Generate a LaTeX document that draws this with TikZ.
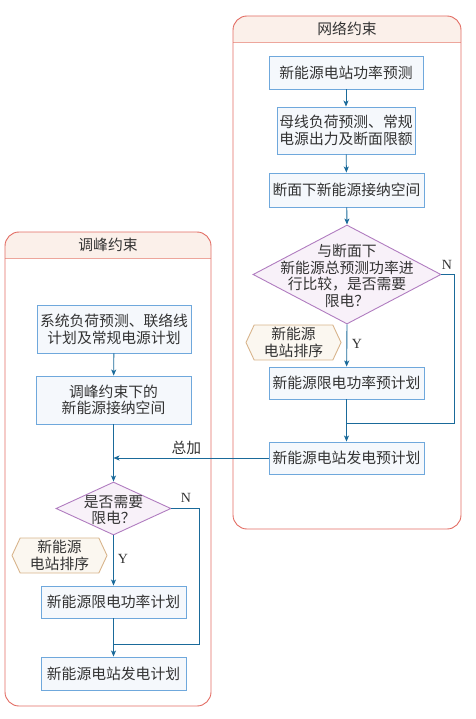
\documentclass[tikz,border=0pt]{standalone}
\usepackage{fontspec}
\setmainfont{Liberation Serif}
\newfontfamily\cjk{Noto Sans CJK SC}
\usetikzlibrary{shapes.geometric,shapes.symbols,arrows.meta,calc}
\definecolor{boxb}{HTML}{6FA8DC}
\definecolor{boxf}{HTML}{F5F8FC}
\definecolor{arrc}{HTML}{1A6A9A}
\definecolor{diab}{HTML}{B07CC0}
\definecolor{diaf}{HTML}{F8F1F9}
\definecolor{hexb}{HTML}{D8B48C}
\definecolor{hexf}{HTML}{FBF7F0}
\definecolor{panb}{HTML}{E26B62}
\definecolor{panf}{HTML}{FBF0EA}
\definecolor{panl}{HTML}{EDA69C}
\definecolor{txt}{HTML}{333333}
\begin{document}
\begin{tikzpicture}[x=1pt,y=-1pt,
  cjkfont/.style={font=\cjk\fontsize{14.8}{16.6}\selectfont},
  stepbox/.style={draw=boxb, fill=boxf, line width=0.9pt, text=txt, align=center, inner sep=0pt, cjkfont},
  decide/.style={diamond, draw=diab, fill=diaf, line width=0.9pt, inner sep=0pt},
  dtext/.style={text=txt, align=center, inner sep=0pt, cjkfont},
  hexa/.style={signal, signal to=west and east, signal pointer angle=130, draw=hexb, fill=hexf, line width=0.9pt, text=txt, align=center, inner sep=0pt, minimum width=95pt, minimum height=35pt, cjkfont},
  arr/.style={draw=arrc, line width=0.9pt, -{Stealth[length=6pt,width=5pt,inset=1.5pt]}},
  ln/.style={draw=arrc, line width=0.9pt},
  yn/.style={text=txt, inner sep=0pt, font=\fontsize{14}{16}\selectfont},
  ptitle/.style={text=txt, inner sep=0pt, cjkfont},
]
\useasboundingbox (0,0) rectangle (475,719);

% right panel
\fill[panf] (233,42) [rounded corners=14pt] -- (233,16) -- (461,16) [sharp corners] -- (461,42) -- cycle;
\draw[panl, line width=0.9pt] (233,42) -- (461,42);
\draw[panb, line width=0.9pt, rounded corners=14pt] (233,16) rectangle (461,529);
\node[ptitle] (tR) at (347,29) {网络约束};

% left panel
\fill[panf] (5,258) [rounded corners=14pt] -- (5,232) -- (211,232) [sharp corners] -- (211,258) -- cycle;
\draw[panl, line width=0.9pt] (5,258) -- (211,258);
\draw[panb, line width=0.9pt, rounded corners=14pt] (5,232) rectangle (211,706);
\node[ptitle] (tL) at (108,245) {调峰约束};

% right nodes
\node[stepbox, minimum width=154pt, minimum height=33pt] (r1) at (346,72.5) {新能源电站功率预测};
\node[stepbox, minimum width=138pt, minimum height=47pt] (r2) at (346,130.5) {母线负荷预测、常规\\电源出力及断面限额};
\node[stepbox, minimum width=155pt, minimum height=34pt] (r3) at (346.5,190) {断面下新能源接纳空间};
\node[decide, minimum width=188pt, minimum height=99pt] (d1) at (347,274.5) {};
\node[dtext] (d1t) at (347,276) {与断面下\\新能源总预测功率进\\行比较，是否需要\\限电？};
\node[hexa] (h1) at (293.5,342.5) {新能源\\电站排序};
\node[stepbox, minimum width=155pt, minimum height=32pt] (r4) at (346.5,383) {新能源限电功率预计划};
\node[stepbox, minimum width=155pt, minimum height=32pt] (r5) at (346.5,458) {新能源电站发电预计划};

% left nodes
\node[stepbox, minimum width=154pt, minimum height=48pt] (l1) at (114,329) {系统负荷预测、联络线\\计划及常规电源计划};
\node[stepbox, minimum width=155pt, minimum height=48pt] (l2) at (113.5,400) {调峰约束下的\\新能源接纳空间};
\node[decide, minimum width=115pt, minimum height=53pt] (d2) at (113.5,508.5) {};
\node[dtext] (d2t) at (113.5,510) {是否需要\\限电？};
\node[hexa] (h2) at (59.5,555.5) {新能源\\电站排序};
\node[stepbox, minimum width=145pt, minimum height=32pt] (l3) at (113.5,602) {新能源限电功率计划};
\node[stepbox, minimum width=145pt, minimum height=33pt] (l4) at (113.5,673.5) {新能源电站发电计划};

% right connectors
\draw[arr] (r1) -- (r2);
\draw[arr] (r2) -- (r3);
\draw[arr] (r3) -- (d1.north);
\draw[arr] (d1.south) -- (r4);
\draw[arr] (r4) -- (r5);
\draw[ln] (d1.east) -- ++(13,0) |- ($(r5.north)+(0,-18)$);
\node[yn] (yR) at (357,344) {Y};
\node[yn] (nR) at (447,265) {N};

% left connectors
\draw[arr] (l1) -- (l2);
\draw[arr] (l2) -- (d2.north);
\draw[arr] (d2.south) -- (l3);
\draw[arr] (l3) -- (l4);
\draw[ln] (d2.east) -- ++(28,0) |- ($(l4.north)+(0,-12)$);
\node[yn] (yL) at (123,559) {Y};
\node[yn] (nL) at (186,498) {N};

% sum connector
\coordinate (sumpt) at (r5.west -| l2.south);
\draw[arr] (r5.west) -- (sumpt) node[pos=0.53, above=3pt, text=txt, inner sep=0pt, cjkfont] (sumlbl) {总加};
\end{tikzpicture}
\end{document}
